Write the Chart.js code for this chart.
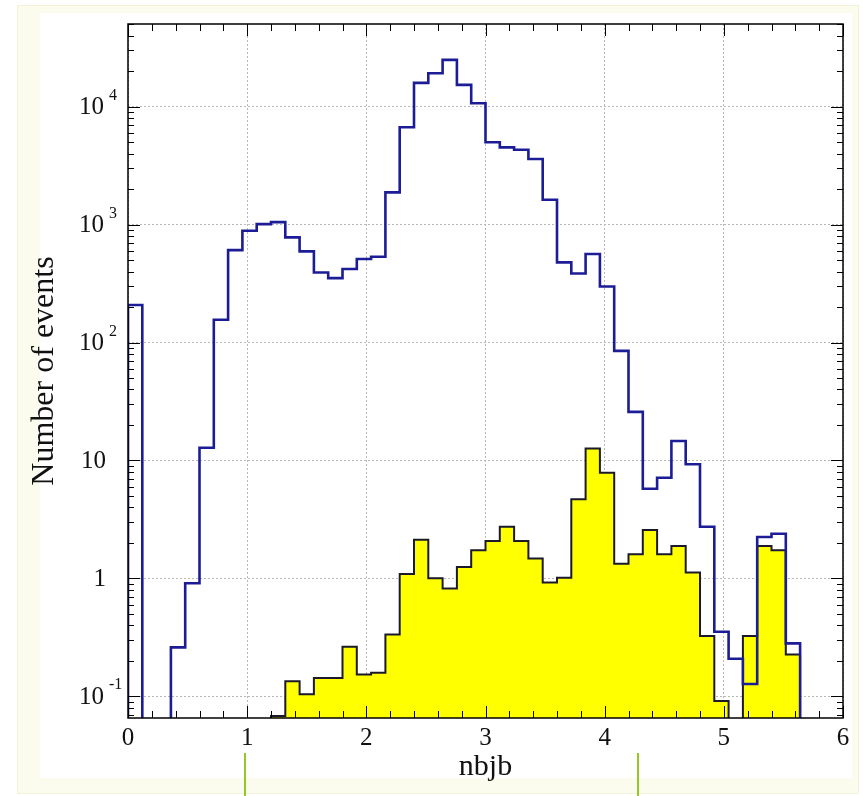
<!DOCTYPE html>
<html lang="en">
  <head>
    <meta charset="UTF-8" />
    <title>nbjb</title>
    <script src="https://cdn.jsdelivr.net/npm/chart.js@4/dist/chart.umd.min.js"></script>
    <style>
      html, body { margin: 0; padding: 0; background: #ffffff; }
      #panel {
        position: absolute; left: 17px; top: 5px; width: 840px; height: 787px;
        background: #fcfcee; border: 1px solid #f3f3dc;
      }
      #inner {
        position: absolute; left: 40px; top: 13px; width: 812px; height: 765px;
        background: #ffffff;
      }
      #box { position: absolute; left: 0; top: 0; width: 863px; height: 796px; }
      .marker {
        position: absolute; top: 753px; width: 2px; height: 43px; background: #94c824;
      }
    </style>
  </head>

  <body>
    <div id="panel"></div>
    <div id="inner"></div>
    <div id="box"><canvas id="hist" width="863" height="796"></canvas></div>
    <div class="marker" style="left: 244px"></div>
    <div class="marker" style="left: 637px"></div>

  <script>
    // 50 bins of 0.12 between 0 and 6
    const binLow = 0;
    const binWidth = 0.12;

    // all events (blue outline)
    const allEvents = [
      208, 0, 0, 0.26, 0.91, 12.8, 156, 608, 888, 1010,
      1050, 779, 593, 393, 352, 420, 511, 534, 1877, 6690,
      15930, 19230, 24970, 15310, 10690, 4990, 4520, 4320, 3605, 1626,
      478, 385, 564, 299, 85, 25.8, 5.76, 7.14, 14.6, 9.29,
      2.74, 0.352, 0.208, 0.127, 2.24, 2.39, 0.281, 0, 0, 0
    ];

    // selected events (yellow filled)
    const selEvents = [
      0, 0, 0, 0, 0, 0, 0, 0, 0, 0,
      0.068, 0.134, 0.104, 0.143, 0.143, 0.263, 0.153, 0.158, 0.334, 1.09,
      2.13, 1.0, 0.82, 1.25, 1.73, 2.07, 2.74, 2.07, 1.47, 0.92,
      1.01, 4.69, 12.6, 7.87, 1.33, 1.6, 2.57, 1.6, 1.88, 1.12,
      0.324, 0.091, 0, 0.324, 1.88, 1.73, 0.226, 0, 0, 0
    ];

    const xTicks = [0, 1, 2, 3, 4, 5, 6];
    // decade labels: mantissa text and exponent text
    const yTicks = [0.1, 1, 10, 100, 1000, 10000];
    const yTickBase = ['10', '1', '10', '10', '10', '10'];
    const yTickExp = ['-1', '', '', '2', '3', '4'];

    const yMin = 0.0654;
    const yMax = 50300;

    // step outline: each bin value is held from its low edge to the next edge
    function stepPoints(vals) {
      const floor = v => (v > 0 ? v : yMin / 10);
      const pts = [{ x: binLow, y: yMin / 10 }];
      vals.forEach((v, i) => pts.push({ x: binLow + (i + 1) * binWidth, y: floor(v) }));
      return pts;
    }

    const serif = '"Liberation Serif", "DejaVu Serif", serif';

    // frame, inward ticks, y labels and axis titles, ROOT style
    const rootFrame = {
      id: 'rootFrame',
      afterDatasetsDraw(chart) {
        const { ctx, chartArea: a, scales } = chart;
        const xs = scales.x, ys = scales.y;
        ctx.save();
        ctx.strokeStyle = '#000';
        ctx.lineWidth = 1;
        ctx.beginPath();
        // x ticks every 0.2, major at integers
        for (let k = 0; k <= 30; k++) {
          const v = k * 0.2;
          const px = Math.round(xs.getPixelForValue(v)) + 0.5;
          const len = k % 5 === 0 ? 12 : 7;
          ctx.moveTo(px, a.bottom); ctx.lineTo(px, a.bottom - len);
          ctx.moveTo(px, a.top); ctx.lineTo(px, a.top + len);
        }
        // y ticks 1..9 per decade
        for (let d = -2; d <= 5; d++) {
          for (let m = 1; m <= 9; m++) {
            const v = m * Math.pow(10, d);
            if (v < yMin || v > yMax) continue;
            const py = Math.round(ys.getPixelForValue(v)) + 0.5;
            const len = m === 1 ? 12 : 6;
            ctx.moveTo(a.left, py); ctx.lineTo(a.left + len, py);
            ctx.moveTo(a.right, py); ctx.lineTo(a.right - len, py);
          }
        }
        ctx.stroke();
        ctx.lineWidth = 1.5;
        ctx.strokeRect(a.left, a.top, a.right - a.left, a.bottom - a.top);

        // y labels with raised exponents
        ctx.fillStyle = '#111';
        ctx.textBaseline = 'middle';
        yTicks.forEach((v, i) => {
          const py = ys.getPixelForValue(v);
          if (yTickExp[i]) {
            ctx.font = '16px ' + serif;
            ctx.textAlign = 'left';
            ctx.fillText(yTickExp[i], 109, py - 11);
            ctx.font = '25px ' + serif;
            ctx.textAlign = 'right';
            ctx.fillText(yTickBase[i], 104, py + 1);
          } else {
            ctx.font = '25px ' + serif;
            ctx.textAlign = 'right';
            ctx.fillText(yTickBase[i], 106, py + 1);
          }
        });

        // axis titles
        ctx.font = '30px ' + serif;
        ctx.textAlign = 'center';
        ctx.fillText('nbjb', (a.left + a.right) / 2, 767);
        ctx.translate(45, 371);
        ctx.rotate(-Math.PI / 2);
        ctx.font = '32px ' + serif;
        ctx.fillText('Number of events', 0, 0);
        ctx.restore();
      }
    };

    const ctx = document.getElementById('hist').getContext('2d');
    const histChart = new Chart(ctx, {
      type: 'line',
      data: {
        datasets: [
          {
            label: 'all',
            data: stepPoints(allEvents),
            stepped: 'after',
            borderColor: '#1c1c96',
            borderWidth: 2.6,
            pointRadius: 0,
            fill: false
          },
          {
            label: 'selected',
            data: stepPoints(selEvents),
            stepped: 'after',
            borderColor: '#1a1a2a',
            borderWidth: 2,
            backgroundColor: '#ffff00',
            pointRadius: 0,
            fill: 'start'
          }
        ]
      },
      options: {
        responsive: false,
        animation: false,
        devicePixelRatio: 1,
        layout: { padding: { top: 24, right: 20, left: 0, bottom: 0 } },
        plugins: {
          legend: { display: false },
          tooltip: { enabled: false }
        },
        scales: {
          x: {
            type: 'linear',
            min: 0,
            max: 6,
            afterBuildTicks: s => { s.ticks = xTicks.map(v => ({ value: v })); },
            afterFit: s => { s.height = 78; },
            ticks: {
              color: '#111',
              padding: 5,
              maxRotation: 0,
              font: { family: serif, size: 25 }
            },
            grid: { color: '#b8b8b8', lineWidth: 1, drawTicks: false },
            border: { display: false, dash: [2, 2] }
          },
          y: {
            type: 'logarithmic',
            min: yMin,
            max: yMax,
            afterBuildTicks: s => { s.ticks = yTicks.map(v => ({ value: v })); },
            afterFit: s => { s.width = 128; },
            ticks: { display: false },
            grid: { color: '#b8b8b8', lineWidth: 1, drawTicks: false },
            border: { display: false, dash: [2, 2] }
          }
        }
      },
      plugins: [rootFrame]
    });
  </script>
  </body>
</html>
